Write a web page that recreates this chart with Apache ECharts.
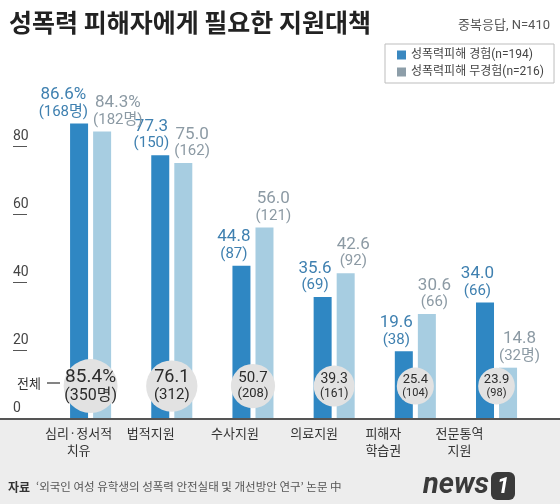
<!DOCTYPE html>
<html><head><meta charset="utf-8">
<script src="https://cdn.jsdelivr.net/npm/echarts@6/dist/echarts.min.js"></script>
<style>html,body{margin:0;padding:0;background:#fff}#c{width:560px;height:504px}</style>
</head><body><div id="c"></div>
<script>
const categories = ['심리·정서적\n치유', '법적지원', '수사지원', '의료지원', '피해자\n학습권', '전문통역\n지원'];
const experienced = [86.6, 77.3, 44.8, 35.6, 19.6, 34.0];
const experiencedN = [168, 150, 87, 69, 38, 66];
const notExperienced = [84.3, 75.0, 56.0, 42.6, 30.6, 14.8];
const notExperiencedN = [182, 162, 121, 92, 66, 32];
const total = [85.4, 76.1, 50.7, 39.3, 25.4, 23.9];
const totalN = [350, 312, 208, 161, 104, 98];
const yTicks = [0, 20, 40, 60, 80];
const seriesNames = ['성폭력피해 경험(n=194)', '성폭력피해 무경험(n=216)'];

// style-only helpers
const labelShift = [-12, -21, -18, -20, -32, -37];
const circleY = 9.4;
const FONT = "Roboto, 'Noto Sans CJK KR', sans-serif";
const KFONT = "'Noto Sans CJK KR', sans-serif";

const chart = echarts.init(document.getElementById('c'), null, {renderer: 'canvas'});

function barLabel(values, counts, dark) {
  const col = dark ? '#3f80b0' : '#8c9aa4';
  return {
    show: true,
    position: 'top',
    distance: 3,
    align: dark ? 'right' : 'left',
    offset: [dark ? 9 : -9, 0],
    fontFamily: FONT,
    formatter: p => {
      const i = p.dataIndex;
      const last = !dark && i === values.length - 1;
      const v = values[i].toFixed(1) + (i === 0 ? '%' : '');
      const c = '(' + counts[i] + (i === 0 || last ? '명' : '') + ')';
      return '{v|' + v + '}\n{c|' + c + '}';
    },
    rich: {
      v: {fontSize: 17, lineHeight: 17, color: col, align: 'center', fontFamily: FONT},
      c: {fontSize: 15, lineHeight: 17, color: col, align: 'center', fontFamily: FONT}
    }
  };
}

const circleData = total.map((v, i) => {
  const size = 30 + 0.28 * v;
  const fv = Math.round(size * 0.35);
  const fc = Math.round(size * 0.29);
  return {
    value: [i, circleY],
    symbolSize: size,
    label: {
      show: true,
      position: 'inside',
      formatter: '{v|' + v.toFixed(1) + (i === 0 ? '%' : '') + '}\n{c|(' + totalN[i] + (i === 0 ? '명' : '') + ')}',
      rich: {
        v: {fontSize: fv, lineHeight: fv + 1, color: '#2b2b2b', fontFamily: FONT, align: 'center'},
        c: {fontSize: fc, lineHeight: fc + 2, color: '#2b2b2b', fontFamily: FONT, align: 'center'}
      }
    }
  };
});

const option = {
  animation: false,
  backgroundColor: '#ffffff',
  title: [
    {text: '성폭력 피해자에게 필요한 지원대책', left: 9, top: 10, padding: 0,
     textStyle: {fontSize: 25, fontWeight: 'bold', color: '#222', fontFamily: KFONT}},
    {text: '중복응답, N=410', right: 10, top: 19, padding: 0,
     textStyle: {fontSize: 13, fontWeight: 'normal', color: '#555', fontFamily: FONT}}
  ],
  legend: {
    orient: 'vertical',
    left: 385, top: 44,
    padding: [5, 10, 5, 12],
    itemWidth: 9, itemHeight: 9, itemGap: 5,
    icon: 'rect',
    borderColor: '#bdbdbd', borderWidth: 1,
    textStyle: {fontSize: 12, color: '#444', fontFamily: FONT},
    data: [
      {name: seriesNames[0], itemStyle: {color: '#3a88c0'}},
      {name: seriesNames[1], itemStyle: {color: '#8d9ea9'}}
    ]
  },
  grid: {left: 50, right: 17.5, top: 78, bottom: 86, containLabel: false},
  xAxis: {
    type: 'category',
    data: categories.map((c, i) => ({
      value: c,
      textStyle: {padding: labelShift[i] < 0 ? [0, -2 * labelShift[i], 0, 0] : [0, 0, 0, 2 * labelShift[i]]}
    })),
    axisLine: {show: false},
    axisTick: {show: false},
    axisLabel: {interval: 0, margin: 7, fontSize: 13, lineHeight: 17, color: '#333', fontFamily: KFONT}
  },
  yAxis: {
    type: 'value', min: 0, max: 100, offset: 23,
    axisLine: {show: false},
    splitLine: {show: false},
    axisTick: {show: true, customValues: yTicks, length: 14, lineStyle: {color: '#555', width: 1}},
    axisLabel: {customValues: yTicks, align: 'left', margin: 14, verticalAlign: 'bottom',
      padding: [0, 0, 3, 0], fontSize: 14, color: '#444', fontFamily: FONT}
  },
  graphic: [
    {type: 'rect', z: -1, shape: {x: 0, y: 419, width: 560, height: 85}, style: {fill: '#ededed'}},
    {type: 'line', z: 100, shape: {x1: 0, y1: 419, x2: 560, y2: 419}, style: {stroke: '#555', lineWidth: 2}},
    {type: 'text', x: 17, y: 383, z: 100, style: {text: '전체', font: '13px ' + KFONT, fill: '#333', verticalAlign: 'middle'}},
    {type: 'line', z: 100, shape: {x1: 47, y1: 383, x2: 60, y2: 383}, style: {stroke: '#333', lineWidth: 1.2}},
    {type: 'text', x: 8, y: 487, style: {text: '자료', font: 'bold 12px ' + KFONT, fill: '#333', verticalAlign: 'middle'}},
    {type: 'text', x: 36, y: 487, style: {text: '‘외국인 여성 유학생의 성폭력 안전실태 및 개선방안 연구’ 논문 中', font: '11.5px ' + KFONT, fill: '#555', verticalAlign: 'middle'}},
    {type: 'text', x: 423, y: 486, style: {text: 'news', font: 'italic bold 29px ' + FONT, fill: '#3a3a3a', verticalAlign: 'middle'}},
    {type: 'rect', shape: {x: 491, y: 472, width: 24, height: 28, r: 6}, style: {fill: '#3a3a3a'}},
    {type: 'text', x: 503, y: 487, style: {text: '1', font: 'italic bold 22px ' + FONT, fill: '#fff', align: 'center', verticalAlign: 'middle'}}
  ],
  series: [
    {name: seriesNames[0], type: 'bar', data: experienced, barWidth: 18, barGap: '28%',
     itemStyle: {color: '#2f87c3'}, label: barLabel(experienced, experiencedN, true)},
    {name: seriesNames[1], type: 'bar', data: notExperienced, barWidth: 18,
     itemStyle: {color: '#a7cde1'}, label: barLabel(notExperienced, notExperiencedN, false)},
    {name: 'total', type: 'scatter', data: circleData, z: 5,
     itemStyle: {color: '#e2e2e2', opacity: 1}, symbol: 'circle'}
  ]
};
chart.setOption(option);
</script>
</body></html>
